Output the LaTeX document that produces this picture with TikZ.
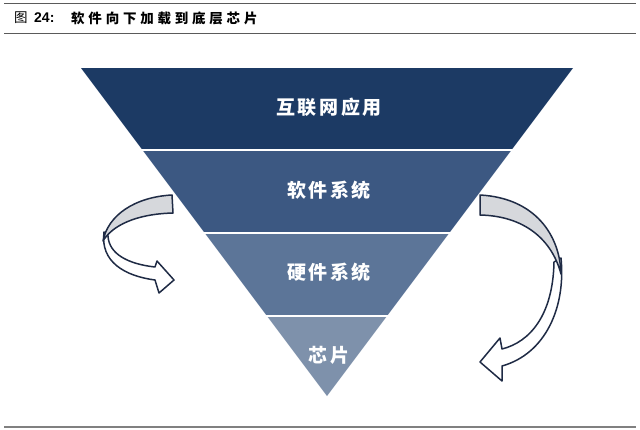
\documentclass[tikz,border=0pt]{standalone}
\usepackage{fontspec}
\setmainfont{Liberation Sans}
\newfontfamily\cjk{Noto Sans CJK SC}
\newfontfamily\cjkband[LetterSpace=14]{Noto Sans CJK SC}
\newfontfamily\cjktitle[LetterSpace=28]{Noto Sans CJK SC}
\definecolor{bandA}{HTML}{1C3A64}
\definecolor{bandB}{HTML}{3C5882}
\definecolor{bandC}{HTML}{5C7598}
\definecolor{bandD}{HTML}{7E91AB}
\definecolor{arrline}{HTML}{1F2B45}
\definecolor{arrgray}{HTML}{D6D8DC}
\definecolor{rulegray}{HTML}{5A5A5A}
\tikzset{
  bandlbl/.style={text=white, font=\cjkband\bfseries\fontsize{19}{21}\selectfont, inner sep=0pt},
  arrowwhite/.style={fill=white, draw=arrline, line width=1.5pt, line join=round},
  arrowgray/.style={fill=arrgray, draw=arrline, line width=1.5pt, line join=round},
  sep/.style={white, line width=2pt}
}
\begin{document}
\begin{tikzpicture}[x=1pt,y=-1pt]
\useasboundingbox (0,0) rectangle (640,429);
\fill[white] (0,0) rectangle (640,429);
% rules
\draw[rulegray, line width=1pt] (4,3.5) -- (636,3.5);
\draw[rulegray, line width=1pt] (4,33.5) -- (636,33.5);
\draw[gray, line width=1.8pt] (4,427) -- (636,427);
% title
\node[anchor=west, inner sep=0pt, font=\cjk\fontsize{13.5}{15}\selectfont] (tfig) at (14,18) {图};
\node[anchor=west, inner sep=0pt, font=\bfseries\fontsize{14}{15}\selectfont] (tnum) at (34,18) {24:};
\node[anchor=west, inner sep=0pt, font=\cjktitle\bfseries\fontsize{13.5}{15}\selectfont] (ttext) at (71,18) {软件向下加载到底层芯片};
% pyramid bands
\fill[bandA] (81,68) -- (573,68) -- (511.5,150) -- (142.5,150) -- cycle;
\fill[bandB] (142.5,150) -- (511.5,150) -- (449.25,233) -- (204.75,233) -- cycle;
\fill[bandC] (204.75,233) -- (449.25,233) -- (387,316) -- (267,316) -- cycle;
\fill[bandD] (267,316) -- (387,316) -- (327,396) -- cycle;
\draw[sep] (138,150) -- (516,150);
\draw[sep] (200,233) -- (454,233);
\draw[sep] (262,316) -- (392,316);
% labels
\node[bandlbl] (l1) at (329,107.5) {互联网应用};
\node[bandlbl] (l2) at (329,190) {软件系统};
\node[bandlbl] (l3) at (329,272.5) {硬件系统};
\node[bandlbl] (l4) at (329,355) {芯片};
% left curved arrow
\path[arrowwhite] (104,232) .. controls (100,262) and (125,276) .. (155,280)
  -- (159,293) -- (174,280) -- (157,261) -- (155,267)
  .. controls (128,264) and (109,254) .. (108,236) -- cycle;
\path[arrowgray] (172,195) .. controls (135,197) and (108,215) .. (103,241)
  .. controls (112,226) and (135,214) .. (173,213) -- cycle;
% right curved arrow
\path[arrowwhite] (561,258) .. controls (566,308) and (545,354) .. (502,366)
  -- (502,381) -- (480,362) -- (500,338) -- (502,349)
  .. controls (530,342) and (553,315) .. (554,262) -- cycle;
\path[arrowgray] (480,195) .. controls (535,198) and (560,235) .. (561,274)
  .. controls (552,240) and (525,216) .. (480,215) -- cycle;
\end{tikzpicture}
\end{document}
